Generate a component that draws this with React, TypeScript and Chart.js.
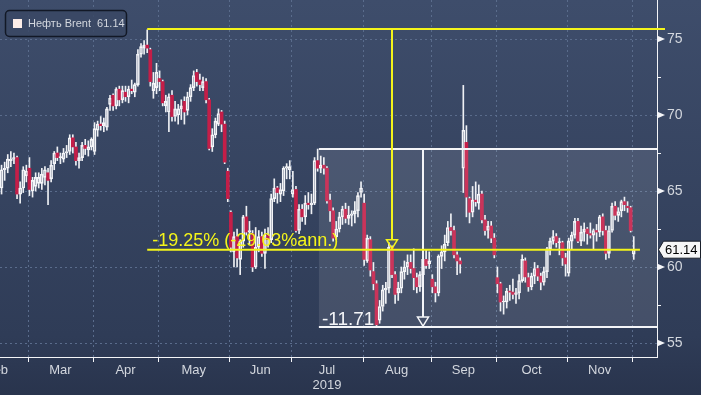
import React, { useEffect, useRef } from 'react';
import { Chart, registerables } from 'chart.js';

Chart.register(...registerables);

// ---- categories (trading days, 2019) ----
const mk = (m: string, days: number[]) => days.map((d) => `${m} ${d}`);
const dates: string[] = [
  ...mk('Feb', [18, 19, 20, 21, 22, 25, 26, 27, 28]),
  ...mk('Mar', [1, 4, 5, 6, 7, 8, 11, 12, 13, 14, 15, 18, 19, 20, 21, 22, 25, 26, 27, 28, 29]),
  ...mk('Apr', [1, 2, 3, 4, 5, 8, 9, 10, 11, 12, 15, 16, 17, 18, 22, 23, 24, 25, 26, 29, 30]),
  ...mk('May', [1, 2, 3, 6, 7, 8, 9, 10, 13, 14, 15, 16, 17, 20, 21, 22, 23, 24, 27, 28, 29, 30, 31]),
  ...mk('Jun', [3, 4, 5, 6, 7, 10, 11, 12, 13, 14, 17, 18, 19, 20, 21, 24, 25, 26, 27, 28]),
  ...mk('Jul', [1, 2, 3, 4, 5, 8, 9, 10, 11, 12, 15, 16, 17, 18, 19, 22, 23, 24, 25, 26, 29, 30, 31]),
  ...mk('Aug', [1, 2, 5, 6, 7, 8, 9, 12, 13, 14, 15, 16, 19, 20, 21, 22, 23, 26, 27, 28, 29, 30]),
  ...mk('Sep', [2, 3, 4, 5, 6, 9, 10, 11, 12, 13, 16, 17, 18, 19, 20, 23, 24, 25, 26, 27, 30]),
  ...mk('Oct', [1, 2, 3, 4, 7, 8, 9, 10, 11, 14, 15, 16, 17, 18, 21, 22, 23, 24, 25, 28, 29, 30, 31]),
  ...mk('Nov', [1, 4, 5, 6, 7, 8, 11, 12, 13, 14, 15, 18, 19, 20, 21, 22, 25, 26, 27, 28, 29]),
  ...mk('Dec', [2]),
];
const padDates: string[] = ['Dec 3', 'Dec 4', 'Dec 5', 'Dec 6', 'Dec 9', 'Dec 10', 'Dec 11'];

// ---- series values (OHLC) ----
const opens: number[] = [
  65.2, 66.4, 66.5, 67.0, 67.1, 67.2, 64.8, 65.2, 66.0,
  66.5, 65.0, 65.3, 65.5, 65.5, 65.9, 66.2, 65.8, 66.8, 67.5, 67.2, 67.1, 67.5, 67.6, 68.5, 67.9, 67.0, 67.2, 68.0, 67.7, 67.9,
  67.6, 69.0, 69.4, 69.3, 69.2, 70.7, 71.3, 70.6, 71.7, 71.0, 71.5, 71.2, 71.7, 71.5, 72.0, 74.0, 74.4, 74.6, 74.3, 71.6, 71.8,
  72.4, 72.2, 70.6, 70.2, 71.3, 69.9, 70.0, 70.4, 70.9, 70.3, 71.2, 71.8, 72.8, 72.3, 71.8, 72.2, 71.0, 67.9, 68.7, 69.4, 70.2, 69.4, 66.3,
  63.6, 61.0, 62.0, 60.5, 61.7, 63.3, 62.3, 62.2, 60.0, 61.3, 62.0, 60.9, 62.1, 61.8, 64.5, 65.2, 64.8, 65.0, 66.5, 66.4,
  64.8, 65.1, 62.4, 63.8, 63.3, 64.2, 64.1, 64.2, 67.0, 66.5, 66.7, 66.5, 64.4, 63.7, 62.0, 62.5, 63.3, 63.8, 63.2, 63.4, 63.5, 63.7, 64.9,
  64.2, 60.4, 61.8, 59.7, 58.9, 56.5, 57.4, 58.5, 58.6, 61.3, 59.5, 58.3, 58.6, 59.7, 60.0, 60.3, 59.9, 59.3, 58.7, 59.5, 60.5, 60.2,
  59.2, 58.7, 58.3, 60.7, 61.0, 61.6, 62.6, 62.4, 60.8, 60.4, 66.5, 68.2, 64.5, 63.6, 64.4, 64.2, 64.8, 63.1, 62.4, 62.7, 61.9,
  59.3, 58.9, 57.7, 57.7, 58.4, 58.35, 58.2, 58.3, 59.1, 60.4, 59.3, 58.7, 59.4, 59.9, 59.4, 59.0, 59.7, 61.2, 61.7, 62.0, 61.6, 61.6, 60.6,
  59.6, 61.7, 62.1, 63.0, 61.7, 62.3, 62.5, 62.2, 62.1, 62.4, 62.3, 63.3, 62.4, 60.9, 62.4, 64.0, 63.4, 63.7, 64.3, 64.0, 63.9,
  60.85,
];
const highs: number[] = [
  66.7, 66.9, 67.4, 67.6, 67.5, 67.3, 65.6, 66.6, 66.7,
  67.2, 65.9, 66.2, 66.2, 66.5, 66.6, 66.5, 67.0, 67.6, 67.9, 67.5, 67.8, 68.0, 68.7, 68.7, 68.2, 67.5, 68.2, 68.4, 68.3, 68.5,
  69.5, 69.6, 69.9, 69.8, 70.5, 71.3, 71.4, 71.8, 71.9, 71.9, 71.9, 71.9, 72.3, 72.1, 74.3, 74.7, 74.9, 75.6, 74.4, 72.8, 73.4,
  72.9, 72.3, 71.3, 71.4, 71.6, 70.9, 70.7, 71.0, 71.2, 71.5, 72.0, 72.9, 73.0, 72.7, 72.5, 72.4, 71.1, 69.1, 69.8, 70.4, 70.3, 69.6, 66.5,
  63.7, 62.3, 62.5, 61.8, 63.4, 64.0, 63.0, 62.4, 62.6, 62.4, 62.3, 62.5, 62.6, 64.8, 65.8, 65.3, 65.5, 66.6, 66.8, 67.0,
  66.3, 65.3, 64.1, 64.1, 64.7, 64.9, 64.8, 67.2, 67.76, 67.3, 67.2, 66.6, 64.8, 63.9, 63.0, 63.6, 64.0, 64.2, 64.0, 63.7, 64.3, 64.9, 65.6,
  64.8, 62.1, 62.0, 60.3, 59.1, 57.8, 58.8, 59.0, 61.6, 61.4, 59.7, 59.0, 60.0, 60.4, 60.8, 60.8, 61.2, 59.6, 59.7, 60.6, 61.1, 61.0,
  59.5, 59.0, 60.8, 61.4, 62.1, 63.0, 63.5, 62.7, 61.0, 60.6, 71.95, 69.3, 64.6, 65.3, 65.6, 65.4, 65.0, 63.4, 63.0, 63.0, 62.2,
  60.0, 59.0, 58.1, 58.6, 58.8, 59.2, 58.6, 59.5, 60.8, 60.6, 59.6, 59.6, 60.3, 60.1, 59.6, 60.0, 61.3, 61.9, 62.4, 62.2, 61.9, 61.7, 60.9,
  61.9, 62.3, 63.2, 63.2, 62.7, 62.9, 62.6, 62.9, 62.5, 62.8, 63.4, 63.5, 62.7, 62.7, 64.2, 64.3, 63.9, 64.4, 64.6, 64.3, 64.0,
  62.0,
];
const lows: number[] = [
  64.8, 65.7, 66.2, 66.6, 66.8, 64.5, 64.2, 64.9, 65.6,
  64.7, 64.6, 65.0, 65.2, 65.1, 65.4, 64.1, 65.6, 66.4, 67.0, 66.8, 66.9, 67.2, 67.4, 67.5, 66.7, 66.5, 67.0, 67.4, 67.3, 67.7,
  67.4, 68.6, 69.0, 68.9, 69.0, 70.3, 70.3, 70.4, 70.6, 70.8, 70.9, 70.8, 71.4, 71.2, 71.9, 73.8, 74.0, 74.1, 71.9, 71.1, 71.4,
  71.6, 70.6, 70.2, 68.9, 69.6, 69.6, 69.4, 69.7, 69.4, 70.0, 70.9, 71.6, 71.9, 71.6, 71.6, 70.8, 67.7, 67.6, 68.5, 69.3, 68.9, 66.8, 64.3,
  61.0, 60.0, 60.0, 59.5, 61.3, 62.1, 61.5, 59.7, 59.9, 61.0, 60.7, 59.9, 61.3, 61.6, 64.3, 64.2, 64.3, 64.7, 65.8, 65.8,
  64.6, 62.3, 62.2, 63.0, 62.8, 63.8, 63.5, 64.1, 66.3, 66.2, 66.1, 64.2, 63.0, 61.7, 61.8, 62.3, 62.8, 62.9, 62.8, 62.7, 62.9, 63.3, 64.6,
  60.1, 60.3, 59.4, 58.5, 56.05, 56.3, 57.1, 57.6, 58.3, 59.3, 57.6, 57.8, 58.3, 59.2, 59.5, 59.6, 58.5, 58.3, 58.4, 59.3, 59.9, 59.9,
  58.3, 57.7, 58.1, 59.9, 60.4, 61.4, 62.1, 60.6, 59.5, 59.6, 64.9, 63.3, 62.9, 63.3, 64.0, 63.8, 62.9, 62.1, 61.9, 61.6, 60.6,
  58.3, 57.1, 56.9, 57.3, 57.8, 57.9, 57.6, 57.9, 59.0, 59.0, 58.4, 58.5, 58.9, 59.1, 58.5, 58.8, 59.3, 60.8, 61.5, 61.3, 60.8, 60.1, 59.4,
  59.4, 61.2, 61.9, 61.6, 61.4, 61.7, 61.5, 61.9, 61.2, 61.7, 62.0, 62.1, 60.5, 60.6, 62.3, 63.1, 63.0, 63.3, 63.7, 63.6, 62.3,
  60.5,
];
const closes: number[] = [
  66.4, 66.5, 67.1, 67.1, 67.2, 64.8, 65.2, 66.4, 66.3,
  65.1, 65.7, 65.9, 65.9, 66.1, 66.4, 65.7, 66.7, 67.5, 67.2, 67.25, 67.5, 67.6, 68.5, 67.9, 67.0, 67.2, 68.0, 67.8, 67.9, 68.4,
  69.1, 69.4, 69.3, 69.5, 70.4, 71.1, 70.6, 71.7, 71.0, 71.6, 71.2, 71.7, 71.6, 72.0, 74.0, 74.5, 74.6, 74.4, 72.2, 72.1, 72.8,
  72.2, 70.8, 70.9, 71.2, 69.9, 70.4, 70.4, 70.6, 70.2, 71.2, 71.8, 72.6, 72.2, 72.0, 72.2, 71.0, 67.8, 68.7, 69.6, 70.1, 69.4, 66.9, 64.5,
  61.3, 62.0, 60.6, 61.7, 63.3, 62.3, 62.4, 60.0, 61.3, 62.0, 60.9, 62.1, 61.8, 64.5, 65.2, 64.9, 65.1, 66.5, 66.6, 66.6,
  65.1, 62.4, 63.8, 63.3, 64.2, 64.1, 64.2, 67.0, 66.5, 66.7, 66.5, 64.35, 63.7, 61.9, 62.5, 63.3, 63.8, 63.2, 63.4, 63.5, 63.7, 64.7, 65.2,
  60.5, 61.9, 59.8, 58.9, 56.2, 57.4, 58.5, 58.6, 61.3, 59.5, 58.2, 58.6, 59.7, 60.0, 60.3, 59.9, 59.3, 58.7, 59.5, 60.5, 60.1, 60.4,
  58.7, 58.3, 60.7, 61.0, 61.5, 62.6, 62.4, 60.8, 60.4, 60.2, 69.0, 64.6, 63.6, 64.4, 64.3, 64.8, 63.1, 62.4, 62.7, 61.9, 60.8,
  58.9, 57.7, 57.75, 58.4, 58.35, 58.2, 58.3, 59.1, 60.5, 59.35, 58.7, 59.4, 59.9, 59.4, 59.0, 59.7, 61.2, 61.7, 62.0, 61.6, 61.65, 60.6, 60.2,
  61.7, 62.1, 63.0, 61.7, 62.3, 62.5, 62.2, 62.1, 62.4, 62.3, 63.3, 62.4, 60.9, 62.4, 64.0, 63.4, 63.65, 64.3, 64.1, 63.9, 62.4,
  61.14,
];

// ---- tick labels and annotation values ----
const monthNames: string[] = ['Feb', 'Mar', 'Apr', 'May', 'Jun', 'Jul', 'Aug', 'Sep', 'Oct', 'Nov'];
const febTradingDaysBefore = 11; // Feb 1..15 are off-chart to the left
const yearLabel = '2019';
const yearUnderMonth = 'Jul';
const yMajorTicks: number[] = [55, 60, 65, 70, 75];
const yMinorTicks: number[] = [57.5, 62.5, 67.5, 72.5];
const Y_MIN = 54.08;
const Y_MAX = 77.566;
const seriesName = 'Нефть Brent';
const lastPrice = 61.14;
const peakPrice = 75.66;
const rangeHigh = 67.76;
const rangeLow = 56.05;
const changeText = '-19.25% (-29.63%ann.)';
const rangeText = '-11.71';
const peakDate = 'Apr 25';
const dropArrowDate = 'Aug 14';
const rangeStartDate = 'Jul 11';
const rangeArrowDate = 'Aug 28';
const lineEndDate = 'Dec 4';

const RED = '#c41e48';
const WHITE = '#f4f5f8';
const YELLOW = '#f4f41a';
const GRID = '#5a6c8c';
const LABEL = '#d3d7de';
const FONT = '"Liberation Sans", Arial, sans-serif';

export default function App() {
  const ref = useRef<HTMLCanvasElement>(null);

  useEffect(() => {
    document.body.style.margin = '0';
    const canvas = ref.current as HTMLCanvasElement;
    const labels = [...dates, ...padDates];
    const n = dates.length;
    const up = (i: number) => closes[i] >= opens[i];

    const upperWick = labels.map((_, i) => (i < n ? [Math.max(opens[i], closes[i]), highs[i]] : null));
    const lowerWick = labels.map((_, i) => (i < n ? [lows[i], Math.min(opens[i], closes[i])] : null));
    const bodies = labels.map((_, i) => (i < n ? [opens[i], closes[i]] : null));

    const monthStarts: number[] = [];
    for (let i = 1; i < n; i++) {
      if (dates[i].slice(0, 3) !== dates[i - 1].slice(0, 3)) monthStarts.push(i);
    }

    const bg = {
      id: 'bg',
      beforeDraw(chart: any) {
        const { ctx, width, height } = chart;
        const g = ctx.createLinearGradient(0, 0, 0, height);
        g.addColorStop(0, '#3e4d6b');
        g.addColorStop(0.85, '#2f3c57');
        g.addColorStop(1, '#29344d');
        ctx.save();
        ctx.fillStyle = g;
        ctx.fillRect(0, 0, width, height);
        ctx.restore();
      },
      beforeDatasetsDraw(chart: any) {
        const { ctx, chartArea: a, scales } = chart;
        const x = scales.x;
        ctx.save();
        ctx.strokeStyle = GRID;
        ctx.lineWidth = 1;
        ctx.setLineDash([2, 3]);
        for (const b of monthStarts) {
          const px = Math.round(x.getPixelForValue(b - 0.5)) + 0.5;
          ctx.beginPath();
          ctx.moveTo(px, a.top);
          ctx.lineTo(px, a.bottom);
          ctx.stroke();
        }
        ctx.restore();
      },
    };

    const overlay = {
      id: 'overlay',
      afterDatasetsDraw(chart: any) {
        const { ctx, chartArea: a, scales } = chart;
        const x = scales.x;
        const y = scales.y;
        const px = (d: string, off = 0) => x.getPixelForValue(labels.indexOf(d) + off);
        const py = (v: number) => y.getPixelForValue(v);
        const line = (x1: number, y1: number, x2: number, y2: number) => {
          ctx.beginPath();
          ctx.moveTo(x1, y1);
          ctx.lineTo(x2, y2);
          ctx.stroke();
        };
        const tri = (cx: number, tip: number) => {
          ctx.beginPath();
          ctx.moveTo(cx - 5.5, tip - 9);
          ctx.lineTo(cx + 5.5, tip - 9);
          ctx.lineTo(cx, tip);
          ctx.closePath();
          ctx.stroke();
        };
        ctx.save();

        // range box
        const bx = px(rangeStartDate, 0.4);
        const yTop = py(rangeHigh);
        const yBot = py(rangeLow);
        ctx.fillStyle = 'rgba(255,255,255,0.10)';
        ctx.fillRect(bx, yTop, a.right - bx, yBot - yTop);
        ctx.strokeStyle = WHITE;
        ctx.lineWidth = 2;
        line(bx, yTop, a.right, yTop);
        line(bx, yBot, a.right, yBot);
        const rx = Math.round(px(rangeArrowDate));
        ctx.lineWidth = 2;
        line(rx, yTop, rx, yBot - 10);
        ctx.lineWidth = 1.5;
        tri(rx, yBot - 1);
        ctx.font = `19px ${FONT}`;
        ctx.fillStyle = WHITE;
        ctx.textBaseline = 'alphabetic';
        ctx.fillText(rangeText, bx + 3, yBot - 2);

        // drawdown annotation
        const pkx = px(peakDate);
        const pky = py(peakPrice);
        const ly = py(lastPrice);
        ctx.strokeStyle = YELLOW;
        ctx.lineWidth = 2;
        line(pkx, pky, a.right + 8, pky);
        line(pkx, ly, px(lineEndDate), ly);
        const dx = Math.round(px(dropArrowDate));
        line(dx, pky, dx, ly - 10);
        ctx.lineWidth = 1.5;
        tri(dx, ly - 1);
        ctx.font = `18px ${FONT}`;
        ctx.fillStyle = YELLOW;
        ctx.fillText(changeText, pkx + 5, ly - 3.5);

        // legend
        ctx.lineWidth = 1.5;
        ctx.strokeStyle = '#121826';
        ctx.fillStyle = 'rgba(58,72,100,0.85)';
        ctx.beginPath();
        ctx.roundRect(5.5, 10.5, 121, 26, 4);
        ctx.fill();
        ctx.stroke();
        ctx.fillStyle = '#fdeee8';
        ctx.fillRect(13, 19, 9, 9);
        ctx.fillStyle = LABEL;
        ctx.font = `11px ${FONT}`;
        ctx.textBaseline = 'middle';
        ctx.fillText(`${seriesName}  ${lastPrice.toFixed(2)}`, 28, 24);
        ctx.restore();
      },
      afterDraw(chart: any) {
        const { ctx, chartArea: a, scales } = chart;
        const x = scales.x;
        const y = scales.y;
        ctx.save();
        ctx.fillStyle = WHITE;
        ctx.strokeStyle = WHITE;
        ctx.lineWidth = 1;
        // y axis markers + labels
        ctx.font = `14px ${FONT}`;
        ctx.textBaseline = 'middle';
        ctx.textAlign = 'left';
        for (const v of yMajorTicks) {
          const yy = y.getPixelForValue(v);
          ctx.fillStyle = WHITE;
          ctx.beginPath();
          ctx.moveTo(a.right, yy - 3.5);
          ctx.lineTo(a.right + 8, yy);
          ctx.lineTo(a.right, yy + 3.5);
          ctx.closePath();
          ctx.fill();
          ctx.fillStyle = LABEL;
          ctx.fillText(String(v), a.right + 10, yy);
        }
        for (const v of yMinorTicks) {
          const yy = Math.round(y.getPixelForValue(v)) + 0.5;
          ctx.beginPath();
          ctx.moveTo(a.right, yy);
          ctx.lineTo(a.right + 4, yy);
          ctx.stroke();
        }
        // last price tag
        const ty = y.getPixelForValue(lastPrice);
        ctx.beginPath();
        ctx.moveTo(a.right + 1.5, ty);
        ctx.lineTo(a.right + 6.5, ty - 8.5);
        ctx.lineTo(700.5, ty - 8.5);
        ctx.lineTo(700.5, ty + 8.5);
        ctx.lineTo(a.right + 6.5, ty + 8.5);
        ctx.closePath();
        ctx.fillStyle = '#f6f6f6';
        ctx.fill();
        ctx.strokeStyle = '#1a1f2a';
        ctx.stroke();
        ctx.fillStyle = '#000';
        ctx.font = `13px ${FONT}`;
        ctx.fillText(lastPrice.toFixed(2), a.right + 8, ty + 0.5);

        // x axis ticks and labels
        ctx.strokeStyle = WHITE;
        for (const b of monthStarts) {
          const px = Math.round(x.getPixelForValue(b - 0.5)) + 0.5;
          ctx.beginPath();
          ctx.moveTo(px, a.bottom);
          ctx.lineTo(px, a.bottom + 5);
          ctx.stroke();
        }
        const starts = [-febTradingDaysBefore, ...monthStarts];
        ctx.fillStyle = LABEL;
        ctx.textAlign = 'center';
        monthNames.forEach((m, k) => {
          const c = (starts[k] + starts[k + 1]) / 2 - 0.5;
          const cx = x.getPixelForValue(c);
          ctx.fillText(m, cx, a.bottom + 13);
          if (m === yearUnderMonth) ctx.fillText(yearLabel, cx, a.bottom + 28);
        });
        ctx.restore();
      },
    };

    const chart = new Chart(canvas, {
      type: 'bar',
      data: {
        labels,
        datasets: [
          {
            label: 'hi',
            data: upperWick as any,
            backgroundColor: '#eef0f4',
            barThickness: 1,
            grouped: false,
            order: 2,
          },
          {
            label: 'lo',
            data: lowerWick as any,
            backgroundColor: '#eef0f4',
            barThickness: 1,
            grouped: false,
            order: 2,
          },
          {
            label: seriesName,
            data: bodies as any,
            backgroundColor: labels.map((_, i) => (i < n && !up(i) ? RED : 'rgba(0,0,0,0)')),
            borderColor: labels.map((_, i) => (i < n && !up(i) ? RED : WHITE)),
            borderWidth: labels.map((_, i) => (i < n && !up(i) ? 0 : 1)),
            borderSkipped: false,
            barThickness: 3,
            minBarLength: 1,
            grouped: false,
            order: 1,
          },
        ],
      },
      options: {
        responsive: false,
        animation: false,
        devicePixelRatio: 1,
        layout: { padding: 0 },
        plugins: { legend: { display: false }, tooltip: { enabled: false } },
        scales: {
          x: {
            type: 'category',
            offset: true,
            grid: { display: false },
            ticks: { display: false },
            border: { display: true, color: WHITE, width: 1 },
            afterFit: (s: any) => {
              s.height = 38;
            },
          },
          y: {
            position: 'right',
            min: Y_MIN,
            max: Y_MAX,
            grid: { color: GRID, drawTicks: false, lineWidth: 1 },
            border: { display: true, color: WHITE, width: 1, dash: [2, 3] },
            ticks: { display: false },
            afterBuildTicks: (s: any) => {
              s.ticks = yMajorTicks.map((v) => ({ value: v }));
            },
            afterFit: (s: any) => {
              s.width = 44;
            },
          },
        },
      } as any,
      plugins: [bg, overlay],
    });
    return () => chart.destroy();
  }, []);

  return <canvas ref={ref} width={701} height={395} style={{ display: 'block' }} />;
}
